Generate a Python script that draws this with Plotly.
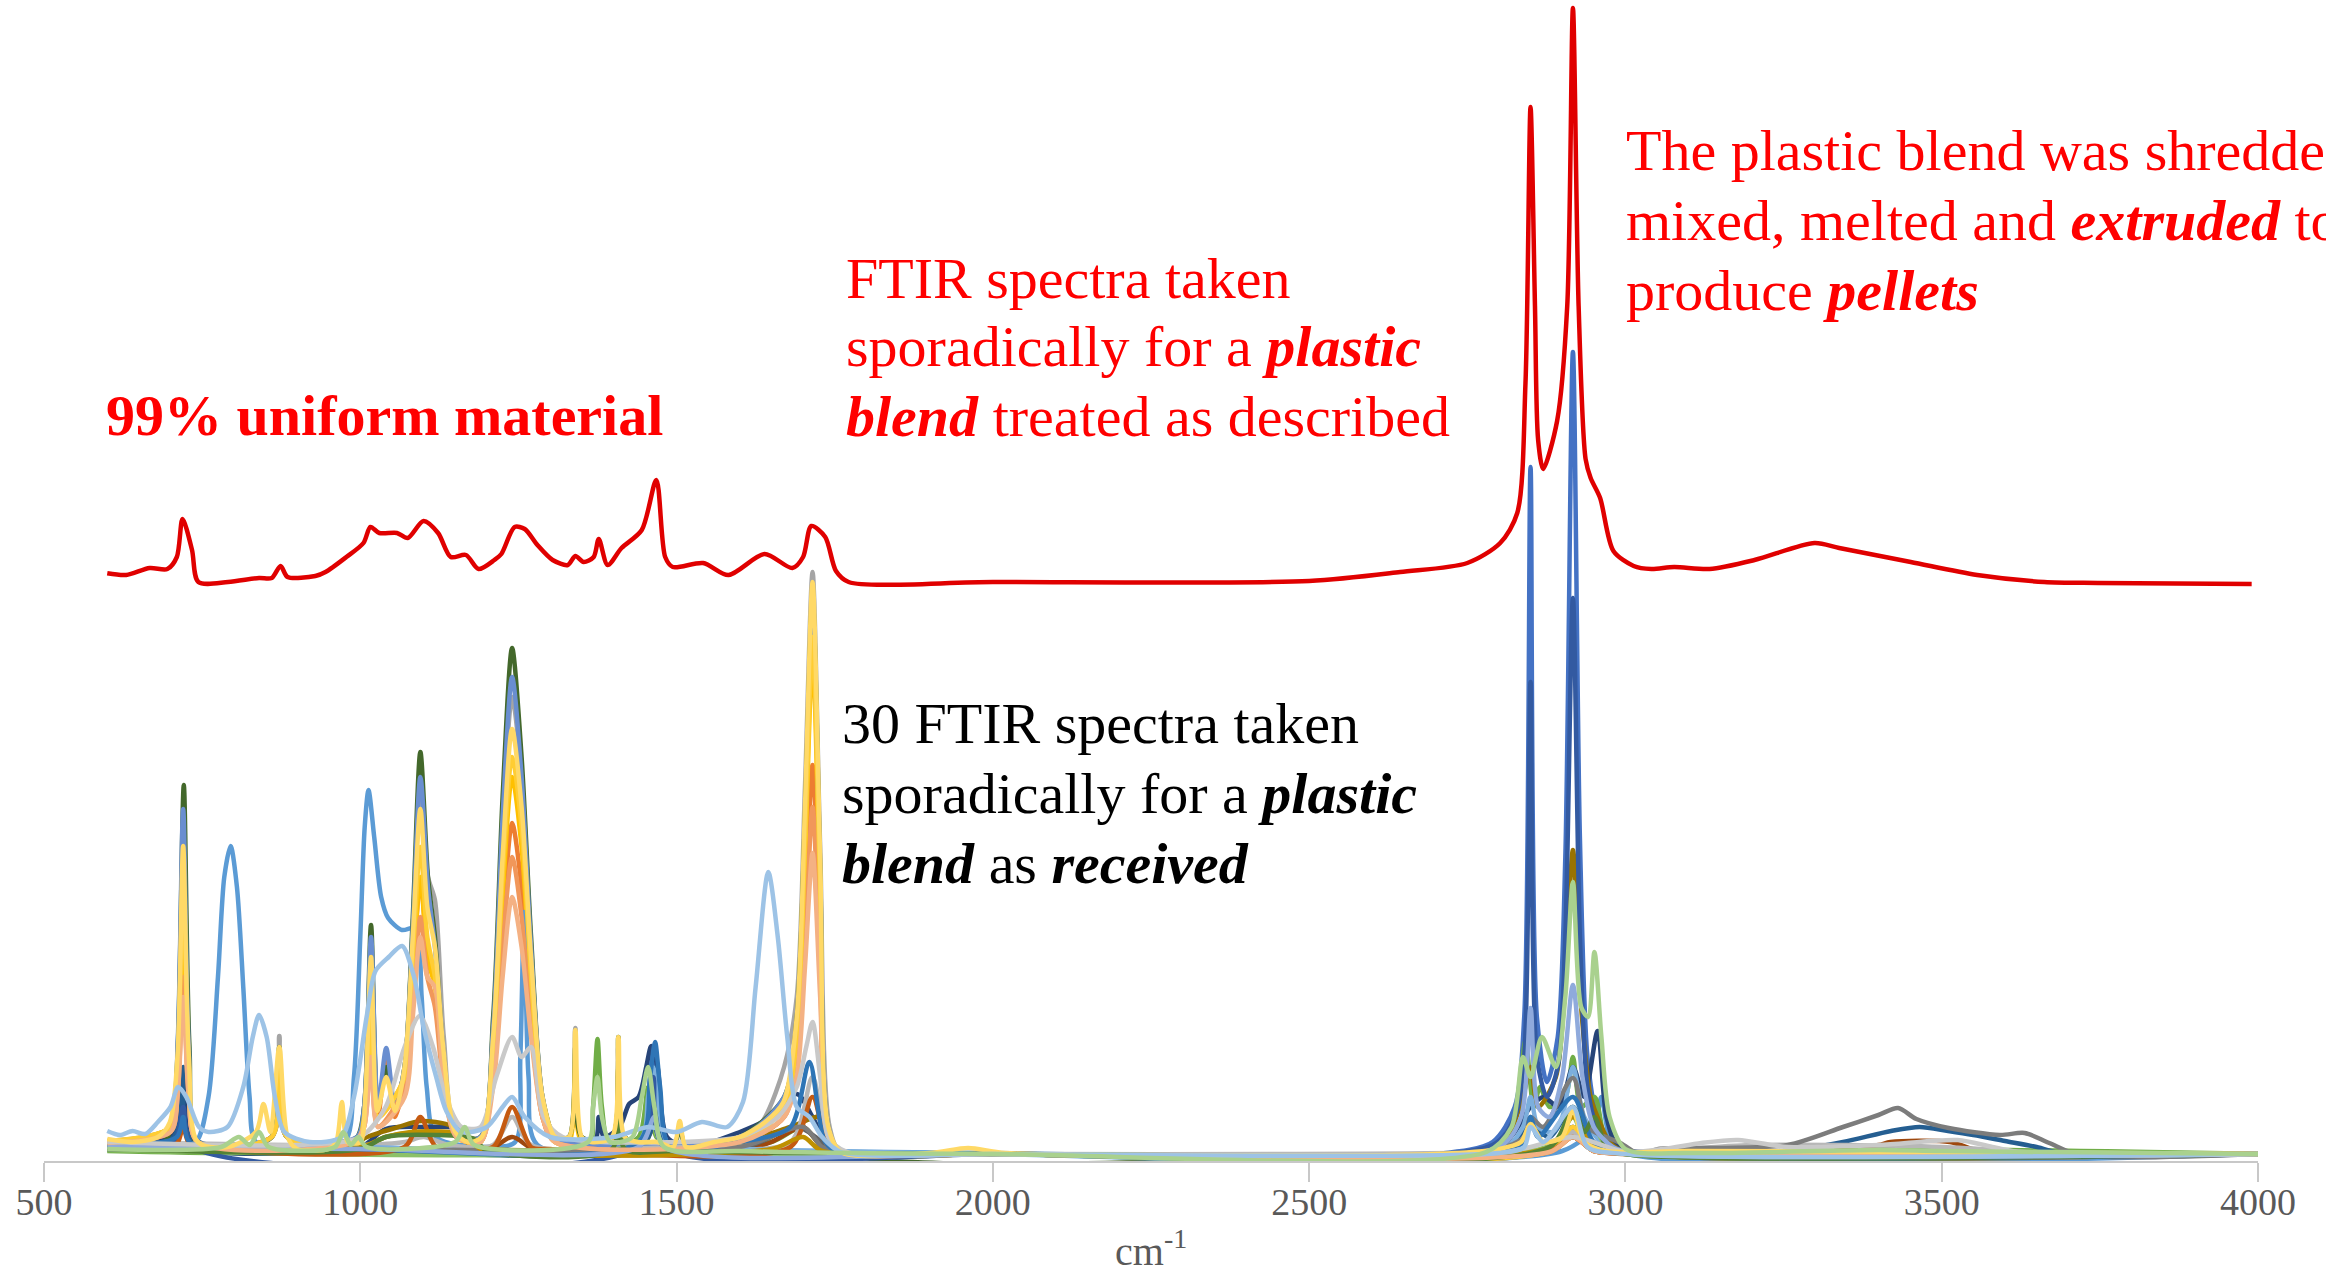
import plotly.graph_objects as go

# ---------------- data (wavenumber cm-1, absorbance in arbitrary units) ----------------
x_ticks = [500, 1000, 1500, 2000, 2500, 3000, 3500, 4000]

# spectrum of the treated blend (drawn with a vertical offset)
red_offset = 57.5
red_spectrum = [(600, 0.87), (630, 0.7), (667, 1.4), (695, 1.3), (710, 2.5), (719, 6.3), (734, 3.2), (744, 0.0),
                (791, 0.0), (840, 0.4), (860, 0.4), (874, 1.6), (885, 0.5), (929, 0.6), (945, 1.0), (978, 2.5),
                (1005, 3.9), (1016, 5.5), (1030, 4.9), (1058, 4.9), (1075, 4.4), (1100, 6.1), (1123, 4.9),
                (1143, 2.5), (1167, 2.7), (1187, 1.3), (1212, 2.2), (1223, 2.8), (1244, 5.5), (1260, 5.3),
                (1280, 3.7), (1304, 2.2), (1328, 1.7), (1340, 2.6), (1353, 2.0), (1369, 2.5), (1377, 4.3),
                (1391, 1.7), (1413, 3.4), (1445, 5.2), (1468, 10.2), (1482, 2.5), (1494, 1.5), (1542, 1.9),
                (1582, 0.7), (1639, 2.8), (1683, 1.4), (1700, 2.5), (1713, 5.6), (1735, 4.5), (1752, 1.1),
                (1772, 0.0), (2000, 0.0), (2500, 0.1), (2644, 1.0), (2750, 1.9), (2802, 3.9), (2829, 6.9),
                (2842, 19.9), (2850, 47.5), (2857, 27.6), (2862, 14.2), (2870, 11.3), (2892, 16.1),
                (2908, 27.6), (2917, 57.4), (2926, 27.6), (2937, 12.3), (2945, 10.4), (2960, 8.4),
                (2981, 3.1), (3013, 1.6), (3041, 1.3), (3077, 1.5), (3133, 1.3), (3204, 2.2), (3299, 3.9),
                (3338, 3.4), (3451, 2.0), (3556, 0.7), (3662, 0.0), (3747, -0.1), (3990, -0.2)]

# 30 spectra of the blend as received
s01 = [(600, 1.0), (650, 0.8), (700, 1.5), (712, 3.0), (720, 7.0), (728, 2.5), (745, 0.8), (900, 0.5), (1100, 0.5),
       (1300, 0.4), (1440, 1.5), (1455, 6.0), (1463, 10.5), (1470, 8.0), (1478, 2.0), (1495, 0.6), (1700, 0.4),
       (2000, 0.3), (2700, 0.3), (2790, 1.5), (2825, 5.0), (2840, 14.0), (2850, 69.0), (2860, 14.0), (2876, 7.5),
       (2893, 12.0), (2905, 30.0), (2917, 80.5), (2928, 32.0), (2940, 10.0), (2955, 4.0), (2975, 1.5), (3010, 0.4),
       (3500, 0.3), (4000, 0.3)]
s02 = [(600, 1.4), (700, 2.5), (711, 7), (720, 20), (729, 7), (743, 1.5), (860, 2), (872, 7), (884, 2), (995, 1.5),
       (1006, 4), (1017, 14), (1028, 4), (1041, 10), (1055, 4), (1070, 8), (1083, 18), (1095, 27.7), (1106, 21),
       (1118, 18), (1132, 8), (1152, 2), (1190, 1.5), (1210, 9), (1225, 23), (1240, 33.4), (1255, 27), (1270, 15),
       (1288, 4), (1308, 1.5), (1600, 1.5), (1670, 4), (1690, 10), (1703, 24), (1715, 39.2), (1727, 20), (1740, 2),
       (1760, 0.5), (2000, 0.3), (2880, 0.5), (2917, 2), (2950, 0.6), (3000, 0.4), (4000, 0.3)]
s03 = [(600, 1.6), (700, 3), (711, 10), (720, 30), (729, 10), (743, 1.5), (860, 2), (872, 12.1), (884, 2), (995, 2),
       (1006, 5), (1017, 21), (1028, 5), (1041, 9), (1055, 5), (1070, 9), (1083, 23), (1095, 36), (1107, 28),
       (1118, 25.7), (1132, 12), (1152, 2.5), (1190, 2), (1210, 13), (1225, 33), (1240, 46), (1255, 38), (1270, 21),
       (1288, 6), (1308, 2), (1330, 2), (1340, 12.9), (1350, 2), (1398, 2), (1408, 11), (1418, 2), (1520, 1),
       (1602, 1.0), (1640, 4), (1670, 9), (1690, 16), (1703, 37), (1715, 58.5), (1727, 31), (1742, 3), (1760, 0.5),
       (2000, 0.3), (2880, 0.6), (2917, 2.5), (2950, 0.7), (3000, 0.4), (4000, 0.3)]
s04 = [(600, 1.5), (700, 3), (711, 8), (720, 24), (729, 8), (743, 1.5), (860, 2), (872, 8), (884, 2), (995, 1.5),
       (1006, 4), (1017, 17), (1028, 4), (1070, 8), (1083, 18), (1095, 28), (1106, 20), (1118, 17), (1132, 8),
       (1152, 2), (1190, 1.5), (1210, 10), (1225, 26), (1240, 38), (1255, 31), (1270, 17), (1288, 5), (1308, 1.5),
       (1330, 1.5), (1340, 9), (1350, 1.5), (1398, 1.5), (1408, 9), (1418, 1.5), (1600, 1.5), (1670, 5), (1690, 12),
       (1703, 30), (1715, 50), (1727, 26), (1740, 2.5), (1760, 0.5), (2000, 0.3), (2880, 0.6), (2917, 3),
       (2950, 0.7), (3000, 0.4), (4000, 0.3)]
s05 = [(600, 1.0), (700, 1.2), (740, 1.5), (760, 6), (775, 18), (785, 28), (795, 31.1), (805, 27), (815, 17),
       (825, 6), (835, 1.5), (900, 1.0), (975, 1.5), (990, 8), (1000, 22), (1007, 33), (1013, 36.7), (1022, 32),
       (1033, 26), (1044, 23.9), (1066, 22.7), (1087, 22.9), (1097, 16), (1105, 7), (1120, 2), (1200, 1.0),
       (1245, 1.5), (1253, 10), (1259, 24.5), (1266, 8), (1280, 1.2), (1500, 0.8), (2000, 0.4), (2900, 0.6),
       (2950, 3), (2962, 6), (2975, 2), (3000, 0.4), (4000, 0.3)]
s06 = [(600, 0.6), (1000, 0.8), (1040, 2), (1100, 2.5), (1170, 2), (1190, 0.6), (1360, 1), (1368, 5), (1375, 11.8),
       (1382, 5), (1395, 1), (1440, 2), (1455, 7), (1468, 2), (1500, 0.8), (1650, 1.5), (1700, 3), (1730, 1),
       (1760, 0.4), (2000, 0.3), (2790, 0.8), (2825, 4), (2842, 11.6), (2855, 5), (2865, 7), (2880, 5), (2905, 6),
       (2917, 10), (2930, 5), (2951, 6), (2970, 1.5), (3000, 0.4), (3400, 0.8), (4000, 0.3)]
s07 = [(600, 1.0), (650, 1.5), (700, 2), (712, 5), (720, 8), (730, 3), (745, 1), (1000, 1), (1040, 2.8), (1100, 3),
       (1160, 2.8), (1190, 0.8), (1370, 1.5), (1377, 4), (1385, 2), (1410, 3), (1425, 5.3), (1440, 6), (1452, 9),
       (1460, 11.1), (1470, 9), (1485, 2), (1520, 1), (1600, 2.5), (1650, 4), (1690, 6.3), (1715, 4), (1740, 1),
       (1770, 0.4), (2000, 0.3), (2800, 1), (2850, 5), (2870, 6), (2895, 5), (2917, 9), (2935, 6), (2956, 12.6),
       (2970, 4), (2990, 1), (3100, 0.4), (4000, 0.3)]
s08 = [(600, 0.8), (1000, 0.6), (1200, 0.6), (1240, 2), (1280, 0.6), (1600, 0.6), (1650, 1.5), (1700, 3), (1730, 1),
       (1760, 0.4), (2000, 0.3), (2800, 0.4), (2880, 0.8), (2917, 2), (2950, 0.8), (3000, 0.4), (3300, 0.6),
       (3400, 1.2), (3419, 1.5), (3513, 1.5), (3560, 0.6), (3700, 0.3), (4000, 0.3)]
s09 = [(600, 1.0), (1000, 0.8), (1600, 0.8), (1690, 3), (1720, 2), (1750, 0.4), (2000, 0.3), (2850, 0.5),
       (2880, 1), (2917, 3), (2950, 1), (3000, 0.3), (4000, 0.3)]
s10 = [(600, 0.8), (980, 1), (1011, 2.0), (1060, 3), (1096, 3.6), (1140, 3.2), (1157, 2.5), (1175, 1), (1195, 0.8),
       (1450, 1.5), (1465, 3.5), (1480, 1), (1600, 1.5), (1680, 3), (1730, 4), (1750, 1), (1770, 0.4), (2000, 0.3),
       (2780, 0.5), (2810, 1.5), (2838, 6), (2850, 9), (2862, 5), (2890, 8), (2905, 18), (2917, 30.7), (2930, 15),
       (2945, 6), (2956, 4), (2975, 1.5), (3000, 0.5), (4000, 0.3)]
s11 = [(600, 1.2), (705, 2), (720, 9), (732, 2), (1000, 0.8), (1450, 1.5), (1465, 9), (1480, 1.5), (1520, 0.5),
       (2000, 0.3), (2800, 0.5), (2850, 3), (2880, 2), (2917, 5), (2950, 1), (3000, 0.4), (3150, 0.4), (3257, 0.6),
       (3344, 1.5), (3420, 2.6), (3465, 3.0), (3510, 2.6), (3550, 2.2), (3600, 1.6), (3650, 1.0), (3700, 0.2),
       (4000, 0.3)]
s12 = [(600, 1.2), (690, 1.5), (704, 4), (712, 12), (721, 37.2), (730, 11), (743, 1.2), (800, 0.8), (860, 2),
       (872, 11), (884, 2), (960, 1.2), (995, 2), (1006, 5), (1017, 23.2), (1028, 5), (1041, 9), (1055, 5), (1070, 9),
       (1083, 24), (1095, 40.5), (1107, 28), (1118, 22), (1132, 10), (1152, 2), (1190, 2), (1210, 14), (1225, 36),
       (1240, 50.9), (1255, 40), (1270, 22), (1288, 6), (1308, 2), (1330, 2), (1340, 11), (1350, 2), (1398, 2),
       (1408, 12), (1418, 2), (1495, 1), (1505, 3), (1515, 1), (1600, 2), (1670, 6), (1690, 14), (1703, 34),
       (1715, 56), (1727, 29), (1740, 3), (1760, 0.5), (2700, 0.3), (2880, 0.5), (2917, 2), (2950, 0.6),
       (3000, 0.4), (4000, 0.3)]
s13 = [(600, 1.3), (700, 3), (711, 11), (720, 34.8), (729, 11), (743, 1.5), (860, 2), (872, 10), (884, 2), (995, 2),
       (1006, 5), (1017, 22), (1028, 5), (1041, 10.9), (1055, 5), (1070, 9), (1083, 23), (1095, 38), (1107, 27),
       (1118, 21), (1132, 10), (1152, 2), (1190, 2), (1210, 13), (1225, 34), (1240, 48), (1255, 38), (1270, 21),
       (1288, 6), (1308, 2), (1600, 2), (1670, 6), (1690, 13), (1703, 33), (1715, 54), (1727, 28), (1740, 3),
       (1760, 0.5), (2000, 0.3), (2880, 0.6), (2917, 3), (2950, 0.7), (3000, 0.4), (4000, 0.3)]
s14 = [(600, 1.3), (700, 2.5), (711, 6), (720, 18), (729, 6), (743, 1.5), (990, 1.5), (1006, 3), (1017, 12),
       (1028, 3), (1070, 7), (1083, 16), (1095, 24), (1106, 18), (1118, 15), (1132, 7), (1152, 2), (1190, 1.5),
       (1210, 8), (1225, 21), (1240, 30), (1255, 24), (1270, 13), (1288, 4), (1308, 1.5), (1600, 1.5), (1670, 4),
       (1690, 9), (1703, 21), (1715, 35), (1727, 18), (1740, 2), (1760, 0.5), (2000, 0.3), (2880, 0.5), (2917, 2),
       (2950, 0.6), (3000, 0.4), (4000, 0.3)]
s15 = [(600, 1.5), (1000, 1.2), (1070, 1.5), (1100, 2), (1140, 1.2), (1210, 1.2), (1240, 4), (1270, 1.2),
       (1500, 1), (1680, 1.5), (1715, 8), (1740, 1), (1770, 0.4), (2000, 0.3), (2850, 0.6), (2890, 1), (2917, 2.5),
       (2945, 1), (3000, 0.5), (3200, 1.2), (3500, 1), (3700, 0.3), (4000, 0.3)]
s16 = [(600, 1.6), (700, 3), (711, 9), (720, 28), (729, 9), (743, 1.5), (860, 2), (872, 9), (884, 2), (995, 1.5),
       (1006, 4), (1017, 18), (1028, 4), (1070, 8), (1083, 20), (1095, 31), (1106, 22), (1118, 18), (1132, 9),
       (1152, 2), (1190, 1.5), (1210, 11), (1225, 28), (1240, 40), (1255, 33), (1270, 18), (1288, 5), (1308, 1.5),
       (1600, 1.5), (1670, 5), (1690, 12), (1703, 31), (1715, 52), (1727, 27), (1740, 2.5), (1760, 0.5), (2000, 0.3),
       (2880, 0.6), (2917, 3), (2950, 0.7), (3000, 0.4), (4000, 0.3)]
s17 = [(600, 1.2), (1000, 1), (1440, 1.5), (1455, 6), (1463, 9), (1472, 5), (1490, 1), (1600, 0.8), (2000, 0.3),
       (2800, 0.4), (2838, 3), (2850, 6), (2862, 3), (2885, 2.5), (2900, 4), (2917, 9), (2935, 4), (2970, 1),
       (3050, 0.3), (4000, 0.3)]
s18 = [(600, 0.7), (1400, 0.7), (1450, 2), (1460, 5), (1470, 2), (1500, 0.6), (2000, 0.3), (2850, 0.6), (2890, 1.5),
       (2917, 4), (2935, 2), (2950, 3), (2970, 1), (3000, 0.3), (4000, 0.3)]
s19 = [(600, 0.8), (705, 1.5), (720, 5), (735, 1), (1440, 1), (1463, 8), (1480, 1), (2000, 0.3), (2790, 1.2),
       (2825, 4), (2840, 10), (2850, 47.5), (2860, 10), (2876, 6), (2893, 9), (2905, 22), (2917, 55.9), (2928, 22),
       (2940, 7), (2955, 3), (2975, 1.2), (3010, 0.4), (4000, 0.3)]
s20 = [(600, 1), (700, 1), (712, 1.5), (720, 3), (728, 1.5), (742, 1), (1070, 1), (1095, 4), (1120, 1), (1210, 1),
       (1240, 5), (1270, 1), (1300, 0.8), (1680, 1), (1715, 6), (1740, 1), (1770, 0.4), (2000, 0.3), (2880, 0.6),
       (2917, 2), (2950, 0.6), (3000, 0.3), (4000, 0.3)]
s21 = [(600, 0.8), (1000, 0.8), (1600, 1), (1700, 3), (1730, 1), (1760, 0.4), (2000, 0.3), (2780, 0.5), (2840, 2),
       (2850, 4), (2870, 3), (2917, 7.9), (2940, 3), (2992, 1.4), (3025, 0.2), (3052, 0.8), (3150, 0.9),
       (3257, 1.2), (3344, 3.0), (3400, 4.2), (3431, 4.9), (3460, 3.8), (3511, 2.9), (3592, 2.2), (3631, 2.4),
       (3670, 1.4), (3718, 0.2), (4000, 0.3)]
s22 = [(600, 1.2), (1000, 1), (1040, 2), (1080, 2.5), (1140, 2.5), (1170, 2), (1190, 0.8), (1650, 0.8), (1700, 2),
       (1730, 0.6), (2000, 0.3), (2880, 1), (2917, 4), (2950, 1), (3000, 0.3), (4000, 0.3)]
s23 = [(600, 1.0), (710, 2), (720, 4), (730, 1.5), (1000, 0.8), (1440, 1.5), (1458, 8), (1466, 11.5), (1474, 7),
       (1490, 1), (1600, 1.5), (1680, 3), (1710, 9.5), (1735, 1.5), (1760, 0.4), (2000, 0.3), (2800, 0.4),
       (2840, 1.5), (2850, 4), (2862, 2), (2917, 6), (2950, 1.5), (3000, 0.4), (4000, 0.3)]
s24 = [(600, 0.8), (1000, 0.8), (1040, 2), (1120, 2.2), (1180, 1.8), (1200, 0.6), (1398, 0.8), (1408, 6),
       (1418, 0.8), (1500, 0.6), (2000, 0.3), (2880, 1), (2917, 5), (2935, 2.5), (2951, 4), (2970, 1), (3000, 0.3),
       (4000, 0.3)]
s25 = [(600, 1), (1000, 0.8), (1440, 1), (1465, 4), (1480, 1), (2000, 0.3), (2800, 1), (2835, 4), (2850, 14.9),
       (2862, 5), (2880, 4), (2900, 8), (2917, 17.2), (2932, 8), (2950, 3), (2980, 1), (3010, 0.4), (4000, 0.3)]
s26 = [(600, 1.4), (700, 2.5), (711, 6), (720, 16), (729, 6), (743, 1.5), (990, 1.5), (1006, 3), (1017, 10),
       (1028, 3), (1070, 6), (1083, 14), (1095, 22), (1106, 18), (1118, 17), (1132, 7), (1152, 2), (1190, 1.5),
       (1210, 7), (1225, 18), (1240, 26), (1255, 21), (1270, 12), (1288, 4), (1308, 1.5), (1600, 1.5), (1670, 4),
       (1690, 8), (1703, 19), (1715, 30.4), (1727, 16), (1740, 2), (1760, 0.5), (2000, 0.3), (2880, 0.5),
       (2917, 2), (2950, 0.6), (3000, 0.4), (4000, 0.3)]
s27 = [(600, 1.5), (900, 1.2), (1000, 2), (1040, 5), (1070, 11), (1094, 14.1), (1115, 11), (1135, 6), (1160, 3),
       (1190, 3), (1215, 8), (1240, 12), (1255, 10), (1270, 11), (1290, 4), (1320, 2), (1500, 1.5), (1600, 2),
       (1660, 4), (1690, 7), (1705, 11), (1715, 13.5), (1727, 8), (1740, 2), (1770, 0.5), (2000, 0.3), (2800, 0.4),
       (2850, 1), (2917, 2), (3000, 0.5), (3060, 0.8), (3120, 1.4), (3178, 1.7), (3230, 1.2), (3257, 1.0),
       (3400, 1.2), (3525, 1.7), (3580, 1.0), (3640, 0.3), (4000, 0.3)]
s28 = [(600, 1.8), (640, 1.5), (680, 2.0), (699, 3.5), (711, 10.0), (720, 31.1), (729, 10.0), (743, 1.5), (790, 1.0),
       (835, 2.5), (847, 5.3), (858, 2.5), (872, 11.0), (885, 2.0), (900, 0.8), (950, 0.8), (962, 1.5), (971, 5.5),
       (980, 1.5), (1000, 1.5), (1008, 6.0), (1017, 20.0), (1027, 4.6), (1041, 8.0), (1055, 4.6), (1070, 9.0),
       (1083, 22.0), (1095, 34.8), (1106, 25.0), (1118, 21.0), (1131, 11.0), (1150, 2.5), (1170, 1.5), (1192, 2.0),
       (1210, 12.0), (1225, 30.0), (1240, 42.8), (1255, 35.0), (1270, 20.0), (1288, 6.0), (1308, 2.0), (1330, 2.0),
       (1340, 12.7), (1350, 2.0), (1365, 1.5), (1398, 2.0), (1408, 12.0), (1418, 2.0), (1440, 1.5), (1470, 1.5),
       (1495, 1.0), (1505, 3.6), (1515, 1.0), (1560, 1.5), (1600, 2.0), (1640, 3.5), (1669, 5.5), (1690, 14.0),
       (1703, 35.0), (1715, 57.5), (1727, 30.0), (1740, 3.0), (1760, 0.5), (1900, 0.4), (1961, 0.9), (2020, 0.4),
       (2700, 0.3), (2800, 0.8), (2835, 1.5), (2850, 3.3), (2870, 1.5), (2900, 2.0), (2917, 4.7), (2935, 1.5),
       (2970, 0.6), (3100, 0.6), (3500, 0.5), (4000, 0.3)]
s29 = [(600, 2.6), (620, 2.2), (640, 2.6), (660, 2.3), (680, 3.5), (700, 5), (712, 7), (725, 6), (745, 3), (760, 2.5),
       (790, 3), (815, 7), (830, 12), (840, 14.2), (852, 12), (865, 6), (880, 2.5), (920, 1.5), (970, 2), (990, 6),
       (1010, 14), (1024, 18.6), (1045, 20), (1066, 21.1), (1085, 18), (1100, 13), (1120, 8), (1136, 4.6),
       (1160, 2.5), (1200, 3), (1225, 5), (1240, 6), (1260, 4), (1300, 2), (1400, 2), (1455, 3), (1500, 2.5),
       (1540, 3.5), (1580, 3), (1605, 5.5), (1625, 17), (1645, 28.5), (1660, 22), (1675, 12), (1690, 5),
       (1710, 4), (1730, 2), (1760, 0.5), (2000, 0.3), (2800, 0.4), (2840, 1), (2850, 3), (2870, 1.5), (2917, 5),
       (2940, 1), (3000, 0.3), (4000, 0.3)]
s30 = [(600, 0.8), (780, 1), (808, 2), (825, 1.2), (840, 2.5), (855, 1), (960, 1), (973, 2.5), (985, 1.2), (997, 2),
       (1010, 1), (1150, 1.5), (1165, 3), (1180, 1.2), (1360, 1.5), (1368, 5), (1375, 8), (1382, 4), (1395, 1.5),
       (1430, 2), (1445, 6), (1455, 9), (1465, 5), (1480, 1), (1600, 0.6), (2000, 0.3), (2780, 0.5), (2820, 3),
       (2838, 10), (2850, 8), (2868, 12), (2890, 9), (2905, 16), (2917, 27.5), (2930, 15), (2941, 14), (2951, 20.5),
       (2962, 12), (2975, 4), (3000, 0.8), (3100, 0.4), (3400, 0.7), (3500, 0.6), (4000, 0.3)]

received_spectra = [s01, s02, s03, s04, s05, s06, s07, s08, s09, s10, s11, s12, s13, s14, s15,
                    s16, s17, s18, s19, s20, s21, s22, s23, s24, s25, s26, s27, s28, s29, s30]

series_colors = ["#4472C4", "#ED7D31", "#A5A5A5", "#FFC000", "#5B9BD5", "#70AD47",
                 "#264478", "#9E480E", "#636363", "#997300", "#255E91", "#43682B",
                 "#698ED0", "#F1975A", "#B7B7B7", "#FFCD33", "#7CAFDD", "#8CC168",
                 "#335AA1", "#C55A11", "#7C7C7C", "#BF9000", "#2E75B6", "#548235",
                 "#8FAADC", "#F4B183", "#C9C9C9", "#FFD966", "#9DC3E6", "#A9D18E"]

# ---------------- figure ----------------
W, H = 2326, 1277
ML, MR, MT, MB = 44, 68, 0, 116
PW, PH = W - ML - MR, H - MT - MB

fig = go.Figure()

for spec, col in zip(received_spectra, series_colors):
    fig.add_trace(go.Scatter(
        x=[p[0] for p in spec], y=[p[1] for p in spec], mode="lines",
        line=dict(color=col, width=4.5, shape="spline", smoothing=0.8),
        hoverinfo="skip", showlegend=False))

fig.add_trace(go.Scatter(
    x=[p[0] for p in red_spectrum], y=[p[1] + red_offset for p in red_spectrum], mode="lines",
    line=dict(color="#E00000", width=4.5, shape="spline", smoothing=0.8),
    hoverinfo="skip", showlegend=False))

FONT = "Liberation Serif, Times New Roman, serif"


def px(xp):
    return (xp - ML) / PW


def py(yp):
    return (H - MB - yp) / PH


text_lines = [
    ("<b>99% uniform material</b>", 104, 415, "#FF0000"),
    ("FTIR spectra taken", 844, 278, "#FF0000"),
    ("sporadically for a <b><i>plastic</i></b>", 844, 347, "#FF0000"),
    ("<b><i>blend</i></b> treated as described", 844, 416, "#FF0000"),
    ("The plastic blend was shredded,", 1624, 150, "#FF0000"),
    ("mixed, melted and <b><i>extruded</i></b> to", 1624, 220, "#FF0000"),
    ("produce <b><i>pellets</i></b>", 1624, 290, "#FF0000"),
    ("30 FTIR spectra taken", 840, 723, "#000000"),
    ("sporadically for a <b><i>plastic</i></b>", 840, 793, "#000000"),
    ("<b><i>blend</i></b> as <b><i>received</i></b>", 840, 863, "#000000"),
]

annotations = []
for txt, xx, yy, col in text_lines:
    annotations.append(dict(text=txt, x=px(xx), y=py(yy), xref="paper", yref="paper",
                            xanchor="left", yanchor="middle", showarrow=False,
                            font=dict(family=FONT, size=58, color=col)))

annotations.append(dict(text="cm<sup>-1</sup>", x=px(1151), y=py(1276), xref="paper", yref="paper",
                        xanchor="center", yanchor="bottom", showarrow=False,
                        font=dict(family=FONT, size=40, color="#595959")))

fig.update_layout(
    width=W, height=H, margin=dict(l=ML, r=MR, t=MT, b=MB),
    paper_bgcolor="white", plot_bgcolor="white", showlegend=False,
    xaxis=dict(range=[500, 4000], tickvals=x_ticks, ticktext=[str(t) for t in x_ticks],
               ticks="outside", ticklen=19, tickwidth=1.5, tickcolor="#C8C8C8",
               showline=True, linecolor="#C8C8C8", linewidth=1.5,
               showgrid=False, zeroline=False, ticklabelstandoff=-12,
               tickfont=dict(family=FONT, size=38, color="#595959")),
    yaxis=dict(range=[-0.4, 115.7], visible=False, showgrid=False, zeroline=False),
    annotations=annotations,
)

fig.write_html("out.html")
